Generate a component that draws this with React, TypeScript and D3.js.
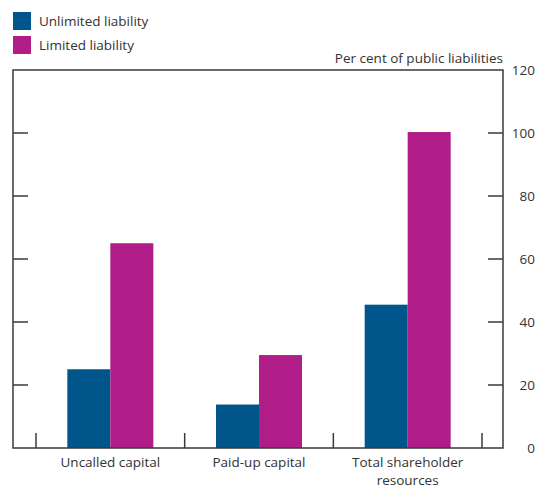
import React from 'react';
import * as d3 from 'd3';

// categories & series
const categories = ['Uncalled capital', 'Paid-up capital', 'Total shareholder resources'];
const categoryLines = [['Uncalled capital'], ['Paid-up capital'], ['Total shareholder', 'resources']];
const seriesNames = ['Unlimited liability', 'Limited liability'];
const unlimited = [25, 13.8, 45.5];
const limited = [65, 29.5, 100.3];
const yTicks = [0, 20, 40, 60, 80, 100, 120];

const COLORS = ['#00558b', '#b01c88'];
const TEXT = '#333333';
const AXIS = '#3a3a3a';
const FONT = '"Open Sans", "Noto Sans", sans-serif';

const W = 540;
const H = 488;
const frame = { left: 13, right: 503, top: 70, bottom: 448 };

export default function App() {
  const y = d3.scaleLinear().domain([0, 120]).range([frame.bottom, frame.top]);
  const x = d3.scaleBand<string>().domain(categories).range([36, 482]).paddingInner(0).paddingOuter(0);
  const groupPad = (x.bandwidth() - 86) / 2;
  const inner = d3
    .scaleBand<string>()
    .domain(seriesNames)
    .range([groupPad, x.bandwidth() - groupPad])
    .padding(0);
  const series = [unlimited, limited];

  const boundaries = [36, ...categories.map((c) => (x(c) ?? 0) + x.bandwidth())];

  return (
    <div style={{ position: 'absolute', left: 0, top: 0 }}>
      <svg width={W} height={H} style={{ display: 'block', fontFamily: FONT }}>
        <rect width={W} height={H} fill="#fff" />

        {/* legend */}
        {seriesNames.map((s, i) => (
          <g key={s} transform={`translate(13,${12 + i * 24})`}>
            <rect width={18} height={18} fill={COLORS[i]} />
            <text x={26} y={14} fontSize={13.5} fill={TEXT}>
              {s}
            </text>
          </g>
        ))}

        <text x={frame.right} y={63} textAnchor="end" fontSize={13.5} fill={TEXT}>
          Per cent of public liabilities
        </text>

        {/* bars */}
        {categories.map((c, ci) => (
          <g key={c} transform={`translate(${x(c)},0)`}>
            {seriesNames.map((s, si) => (
              <rect
                key={s}
                x={inner(s)}
                y={y(series[si][ci])}
                width={inner.bandwidth()}
                height={frame.bottom - y(series[si][ci])}
                fill={COLORS[si]}
              />
            ))}
          </g>
        ))}

        {/* frame */}
        <path
          d={`M${frame.left},${frame.bottom}V${frame.top}H${frame.right}V${frame.bottom}Z`}
          fill="none"
          stroke={AXIS}
          strokeWidth={1.5}
        />

        {/* y ticks */}
        {yTicks.filter((t) => t > 0 && t < 120).map((t) => (
          <g key={t}>
            <line x1={frame.left} x2={frame.left + 15} y1={y(t)} y2={y(t)} stroke={AXIS} strokeWidth={1.5} />
            <line x1={frame.right - 15} x2={frame.right} y1={y(t)} y2={y(t)} stroke={AXIS} strokeWidth={1.5} />
          </g>
        ))}
        {yTicks.map((t) => (
          <text key={t} x={535} y={y(t) + 5} textAnchor="end" fontSize={13.5} fill={TEXT}>
            {t}
          </text>
        ))}

        {/* x ticks */}
        {boundaries.map((b, i) => (
          <line key={i} x1={b} x2={b} y1={frame.bottom} y2={frame.bottom - 15} stroke={AXIS} strokeWidth={1.5} />
        ))}
        {categories.map((c, ci) =>
          categoryLines[ci].map((l, li) => (
            <text
              key={`${c}-${li}`}
              x={(x(c) ?? 0) + x.bandwidth() / 2}
              y={467 + li * 18}
              textAnchor="middle"
              fontSize={13.5}
              fill={TEXT}
            >
              {l}
            </text>
          ))
        )}
      </svg>
    </div>
  );
}
